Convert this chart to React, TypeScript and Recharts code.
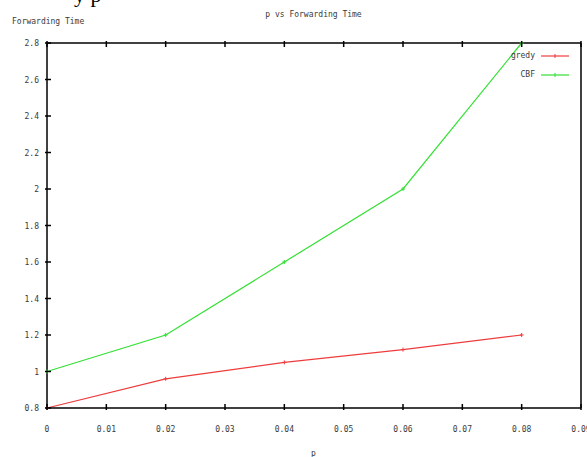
import { LineChart, Line, XAxis, YAxis } from 'recharts';

const pValues = [0, 0.02, 0.04, 0.06, 0.08];
const gredyTimes = [0.8, 0.96, 1.05, 1.12, 1.2];
const cbfTimes = [1.0, 1.2, 1.6, 2.0, 2.8];
const xTicks = [0, 0.01, 0.02, 0.03, 0.04, 0.05, 0.06, 0.07, 0.08, 0.09];
const yTicks = [0.8, 1.0, 1.2, 1.4, 1.6, 1.8, 2.0, 2.2, 2.4, 2.6, 2.8];

const data = pValues.map((p, i) => ({ p, gredy: gredyTimes[i], cbf: cbfTimes[i] }));

const RED = '#ee3c3c';
const GREEN = '#33e033';
const FONT = '"DejaVu Sans Mono", monospace';
const TXT = '#3a3a3a';

const fmtX = (v: number) => (v === 0 ? '0' : v.toFixed(2));
const fmtY = (v: number) => String(parseFloat(v.toFixed(1)));

function BottomTick({ x, y, payload }: any) {
  return (
    <g>
      <line x1={x} y1={y} x2={x} y2={y - 6} stroke="#000" strokeWidth={1.5} />
      <text x={x} y={y + 22} textAnchor="middle" fontSize={8} fontFamily={FONT} fill={TXT}>
        {fmtX(payload.value)}
      </text>
    </g>
  );
}

function TopTick({ x, y }: any) {
  return <line x1={x} y1={y} x2={x} y2={y + 6} stroke="#000" strokeWidth={1.5} />;
}

function LeftTick({ x, y, payload }: any) {
  return (
    <g>
      <line x1={x} y1={y} x2={x + 6} y2={y} stroke="#000" strokeWidth={1.5} />
      <text x={x - 6} y={y + 3} textAnchor="end" fontSize={8} fontFamily={FONT} fill={TXT}>
        {fmtY(payload.value)}
      </text>
    </g>
  );
}

function RightTick({ x, y }: any) {
  return <line x1={x} y1={y} x2={x - 6} y2={y} stroke="#000" strokeWidth={1.5} />;
}

function plusDot(color: string) {
  return ({ cx, cy, index }: any) => (
    <g key={index}>
      <line x1={cx - 2} y1={cy} x2={cx + 2} y2={cy} stroke={color} strokeWidth={1} />
      <line x1={cx} y1={cy - 2} x2={cx} y2={cy + 2} stroke={color} strokeWidth={1} />
    </g>
  );
}

// gnuplot style key, top right inside the frame
function KeyBox() {
  const rows = [
    { name: 'gredy', color: RED },
    { name: 'CBF', color: GREEN },
  ];
  return (
    <div style={{ position: 'absolute', right: 18, top: 46 }}>
      {rows.map((r) => (
        <div key={r.name} style={{ display: 'flex', alignItems: 'center', justifyContent: 'flex-end', height: 19 }}>
          <span style={{ fontFamily: FONT, fontSize: 8, color: TXT, marginRight: 6 }}>{r.name}</span>
          <svg width={28} height={6}>
            <line x1={0} y1={3} x2={28} y2={3} stroke={r.color} strokeWidth={1.2} />
            <line x1={14} y1={1} x2={14} y2={5} stroke={r.color} strokeWidth={1} />
          </svg>
        </div>
      ))}
    </div>
  );
}

export default function App() {
  return (
    <div style={{ position: 'absolute', left: 0, top: 0, width: 587, height: 457, background: '#fff', overflow: 'hidden' }}>
      <div style={{ position: 'absolute', left: 74, top: -16, fontFamily: '"Liberation Serif", serif', fontSize: 22, lineHeight: '22px' }}>
        y p
      </div>
      <div style={{ position: 'absolute', left: 0, width: 627, top: 10, textAlign: 'center', fontFamily: FONT, fontSize: 8, color: TXT }}>
        p vs Forwarding Time
      </div>
      <div style={{ position: 'absolute', left: 12, top: 17, fontFamily: FONT, fontSize: 8, color: TXT }}>
        Forwarding Time
      </div>
      <div style={{ position: 'absolute', left: 0, width: 627, top: 449, textAlign: 'center', fontFamily: FONT, fontSize: 8, color: TXT }}>
        p
      </div>
      <LineChart width={587} height={457} data={data} margin={{ top: 42, right: 5, left: 17, bottom: 19 }}>
        <XAxis
          xAxisId="bottom"
          dataKey="p"
          type="number"
          domain={[0, 0.09]}
          ticks={xTicks}
          height={30}
          tickSize={0}
          tickLine={false}
          axisLine={{ stroke: '#000', strokeWidth: 1.5 }}
          tick={<BottomTick />}
          interval={0}
        />
        <XAxis
          xAxisId="top"
          orientation="top"
          dataKey="p"
          type="number"
          domain={[0, 0.09]}
          ticks={xTicks}
          height={1}
          tickSize={0}
          tickLine={false}
          axisLine={{ stroke: '#000', strokeWidth: 1.5 }}
          tick={<TopTick />}
          interval={0}
        />
        <YAxis
          yAxisId="left"
          type="number"
          domain={[0.8, 2.8]}
          ticks={yTicks}
          width={30}
          tickSize={0}
          tickLine={false}
          axisLine={{ stroke: '#000', strokeWidth: 1.5 }}
          tick={<LeftTick />}
          interval={0}
        />
        <YAxis
          yAxisId="right"
          orientation="right"
          type="number"
          domain={[0.8, 2.8]}
          ticks={yTicks}
          width={1}
          tickSize={0}
          tickLine={false}
          axisLine={{ stroke: '#000', strokeWidth: 1.5 }}
          tick={<RightTick />}
          interval={0}
        />
        <Line
          xAxisId="bottom"
          yAxisId="left"
          type="linear"
          dataKey="gredy"
          stroke={RED}
          strokeWidth={1.2}
          dot={plusDot(RED)}
          isAnimationActive={false}
        />
        <Line
          xAxisId="bottom"
          yAxisId="left"
          type="linear"
          dataKey="cbf"
          stroke={GREEN}
          strokeWidth={1.2}
          dot={plusDot(GREEN)}
          isAnimationActive={false}
        />
      </LineChart>
      <KeyBox />
    </div>
  );
}
